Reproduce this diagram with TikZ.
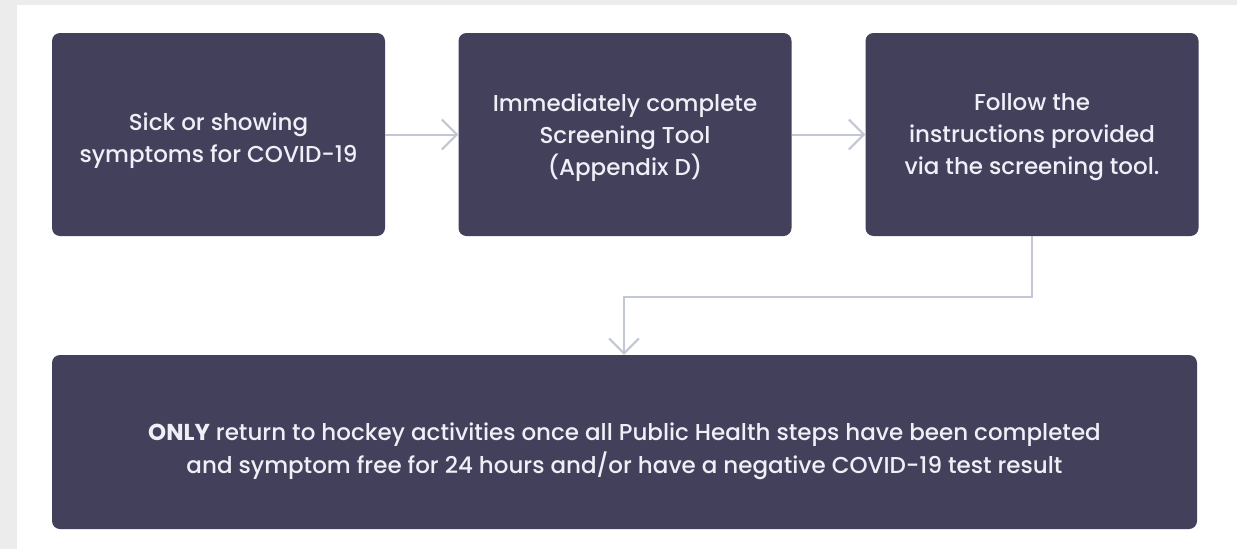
\documentclass[tikz,border=0pt]{standalone}
\usepackage{fontspec}
\setmainfont{Poppins}[UprightFont={* Medium}, BoldFont={* Bold}]
\usetikzlibrary{arrows.meta}
\definecolor{boxfill}{HTML}{43405B}
\definecolor{boxtext}{HTML}{EEF0F7}
\definecolor{linkgray}{HTML}{C3C7D3}
\definecolor{edgegray}{HTML}{ECECEC}
\tikzset{
  stepbox/.style={fill=boxfill, rounded corners=8pt, inner sep=0pt,
    minimum width=333pt, minimum height=203pt},
  steptext/.style={text=boxtext, align=center, inner sep=0pt,
    font=\fontsize{23}{32}\selectfont},
  conn/.style={draw=linkgray, line width=2pt,
    -{Straight Barb[length=15pt, width=30pt, line width=2pt]}},
}
\begin{document}
\begin{tikzpicture}[x=1pt, y=-1pt]
  % page frame with the grey margin strips
  \fill[white] (0,0) rectangle (1237,549);
  \fill[edgegray] (0,0) rectangle (17,549);
  \fill[edgegray] (0,0) rectangle (1237,5);
  \useasboundingbox (0,0) rectangle (1237,549);

  % first row of steps
  \node[stepbox] (b1) at (218.5,134.5) {};
  \node[stepbox] (b2) at (625,134.5) {};
  \node[stepbox] (b3) at (1032,134.5) {};
  \node[steptext] (t1) at ([yshift=-6.5pt]b1.center) {Sick or showing\\symptoms for COVID-19};
  \node[steptext] (t2) at ([yshift=-3pt]b2.center) {Immediately complete\\Screening Tool\\(Appendix D)};
  \node[steptext] (t3) at ([yshift=-3pt]b3.center) {Follow the\\instructions provided\\via the screening tool.};

  % final step
  \node[stepbox, minimum width=1145pt, minimum height=174pt] (b4) at (624.5,442) {};
  \node[steptext, font=\fontsize{23}{33}\selectfont] (t4) at ([yshift=-9pt]b4.center)
    {\textbf{ONLY} return to hockey activities once all Public Health steps have been completed\\
     and symptom free for 24 hours and/or have a negative COVID-19 test result};

  \coordinate (bend) at (624,297);

  % connectors
  \draw[conn] (b1.east) -- (b2.west);
  \draw[conn] (b2.east) -- (b3.west);
  \draw[conn] (b3.south) |- (bend) -- (bend |- b4.north);
\end{tikzpicture}
\end{document}
